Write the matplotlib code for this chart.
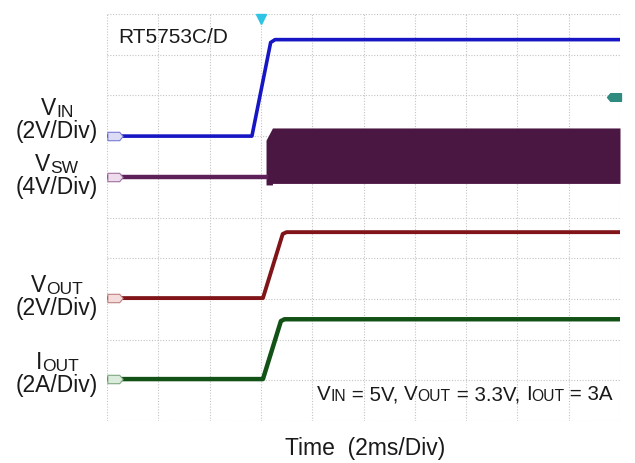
import matplotlib
matplotlib.use("Agg")
import matplotlib.pyplot as plt
import numpy as np
from matplotlib.path import Path
from matplotlib.offsetbox import TextArea, HPacker, VPacker, AnnotationBbox

FONT = "Liberation Sans"
INK = "#1a1a1a"

# time base: 2 ms/div, 10 div, trigger at 6 ms
TRIG_T = 6.0
TRIG_LEVEL = 1.9  # V on VIN

# channel settings: (units per div, ground position in div)
VIN_SCALE, VIN_GND = 2.0, 7.0
SW_SCALE, SW_GND = 4.0, 6.0
VOUT_SCALE, VOUT_GND = 2.0, 3.02
IOUT_SCALE, IOUT_GND = 2.0, 1.03

# traces (time in ms, values in V or A)
vin_t = [0.0, 5.65, 6.38, 6.55, 20.0]
vin_v = [0.0, 0.0, 4.6, 4.74, 4.74]

sw_t = [0.0, 6.2, 6.2, 6.45, 6.45, 20.0]
sw_hi = [0.0, 0.0, 3.6, 4.8, 4.8, 4.8]
sw_lo = [0.0, 0.0, -0.8, -0.8, -0.65, -0.65]

vout_t = [0.0, 6.08, 6.85, 7.0, 20.0]
vout_v = [0.0, 0.0, 3.15, 3.24, 3.24]

iout_t = [0.0, 6.08, 6.78, 6.92, 20.0]
iout_a = [0.0, 0.0, 2.85, 2.94, 2.94]


def to_div(vals, scale, gnd):
    return [gnd + v / scale for v in vals]


def rich(parts, size):
    boxes = []
    for txt, sub in parts:
        boxes.append(TextArea(txt, textprops=dict(
            fontsize=size * (0.76 if sub else 1.0), family=FONT, color=INK)))
    return HPacker(children=boxes, align="bottom", pad=0, sep=0)


def place(fig, box, x, y, align=(0.5, 0.5)):
    # x, y in pixels from top-left of the 635x464 picture
    ab = AnnotationBbox(box, (x, 464 - y), xycoords="figure pixels",
                        frameon=False, box_alignment=align, pad=0)
    fig.add_artist(ab)


fig = plt.figure(figsize=(6.35, 4.64), dpi=100)
ax = fig.add_axes([107 / 635, 1 - 422 / 464, 513 / 635, 407 / 464])
ax.set_xlim(0, 20)
ax.set_ylim(0, 10)
ax.set_xticks(np.arange(0, 21, 2))
ax.set_yticks(np.arange(0, 11, 1))
ax.tick_params(length=0, labelbottom=False, labelleft=False)
for s in ax.spines.values():
    s.set_visible(False)
ax.grid(True, color="#c4c4c4", linestyle=(0, (1, 1.5)), linewidth=0.8)
ax.set_axisbelow(True)

# traces
ax.plot(vin_t, to_div(vin_v, VIN_SCALE, VIN_GND), color="#1616c4", lw=2.6,
        solid_joinstyle="round")
ax.fill_between(sw_t, to_div(sw_lo, SW_SCALE, SW_GND), to_div(sw_hi, SW_SCALE, SW_GND),
                color="#4a1642", lw=0)
ax.plot(sw_t[:2], to_div(sw_hi[:2], SW_SCALE, SW_GND), color="#5e2058", lw=3.2)
ax.plot(vout_t, to_div(vout_v, VOUT_SCALE, VOUT_GND), color="#801418", lw=2.8,
        solid_joinstyle="round")
ax.plot(iout_t, to_div(iout_a, IOUT_SCALE, IOUT_GND), color="#135216", lw=3.2,
        solid_joinstyle="round")

# ground tags on the left
tag = Path([(-1, -0.55), (0.55, -0.55), (1, 0), (0.55, 0.55), (-1, 0.55), (-1, -0.55)],
           [Path.MOVETO, Path.LINETO, Path.LINETO, Path.LINETO, Path.LINETO, Path.CLOSEPOLY])
tag_l = Path([(1, -0.55), (-0.55, -0.55), (-1, 0), (-0.55, 0.55), (1, 0.55), (1, -0.55)],
             [Path.MOVETO, Path.LINETO, Path.LINETO, Path.LINETO, Path.LINETO, Path.CLOSEPOLY])
for gnd, fc, ec in [(VIN_GND, "#dcdcf4", "#7a7ad8"),
                    (SW_GND, "#eedcec", "#a070a0"),
                    (VOUT_GND, "#f4dcdc", "#c08080"),
                    (IOUT_GND, "#dcecdc", "#80a880")]:
    ax.plot([0.3], [gnd], marker=tag, markersize=11, mfc=fc, mec=ec, mew=0.8,
            clip_on=False, zorder=5)

# trigger markers
ax.plot([TRIG_T], [9.88], marker="v", markersize=7, color="#2ec4e4", clip_on=False, zorder=5)
ax.plot([19.75], [VIN_GND + TRIG_LEVEL / VIN_SCALE], marker=tag_l, markersize=10,
        color="#2f8a80", clip_on=False, zorder=5)

# texts
fig.text(118 / 635, 1 - 43 / 464, "RT5753C/D", fontsize=15, family=FONT, color=INK,
         va="baseline")

labels = [
    ([("V", 0), ("IN", 1)], "(2V/Div)", 120),
    ([("V", 0), ("SW", 1)], "(4V/Div)", 176),
    ([("V", 0), ("OUT", 1)], "(2V/Div)", 297),
    ([("I", 0), ("OUT", 1)], "(2A/Div)", 374),
]
for parts, scale_txt, yc in labels:
    box = VPacker(children=[rich(parts, 16.5),
                            TextArea(scale_txt, textprops=dict(fontsize=16.5, family=FONT, color=INK))],
                  align="center", pad=0, sep=0)
    place(fig, box, 57, yc)

cond = rich([("V", 0), ("IN", 1), (" = 5V, ", 0), ("V", 0), ("OUT", 1), (" = 3.3V, ", 0),
             ("I", 0), ("OUT", 1), (" = 3A", 0)], 14.8)
place(fig, cond, 613, 395, align=(1, 0.5))

fig.text(365 / 635, 1 - 455 / 464, "Time  (2ms/Div)", fontsize=16.5, family=FONT, color=INK,
         ha="center", va="baseline")

fig.savefig("out.png", dpi=100)
